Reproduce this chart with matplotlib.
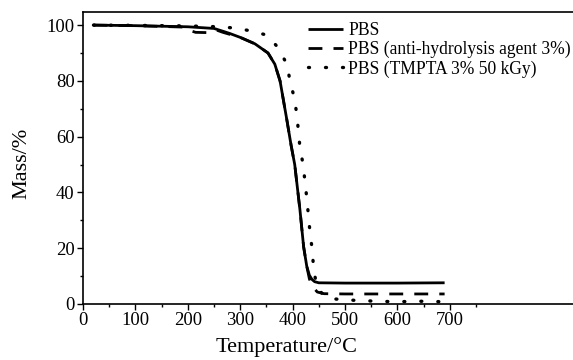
import matplotlib
matplotlib.use("Agg")
import matplotlib.pyplot as plt
from matplotlib.ticker import MultipleLocator, FixedLocator

# Temperature (°C) and mass (%)
t_pbs = [20, 100, 200, 250, 267, 280, 300, 328, 353, 366, 376, 389, 397, 404, 414, 421, 427, 432, 437, 442, 450, 500, 600, 690]
m_pbs = [100, 99.8, 99.4, 98.8, 97.8, 97, 95.6, 93.3, 90, 86, 80, 66, 57, 50, 33.7, 20.5, 13.5, 10.3, 8.8, 8.0, 7.6, 7.5, 7.5, 7.6]

t_anti = [20, 100, 190, 205, 215, 240, 255, 267, 300, 328, 353, 366, 376, 389, 397, 404, 414, 421, 427, 432, 437, 447, 460, 500, 600, 690]
m_anti = [100, 99.8, 99.3, 98, 97.4, 97.3, 98.2, 97.4, 95.6, 93.3, 90, 86, 80, 66, 57, 50, 33.7, 20.5, 13.5, 9.0, 6.5, 4.3, 3.7, 3.6, 3.6, 3.6]

t_tmpta = [20, 100, 200, 260, 286, 319, 351, 372, 389, 395, 403, 408, 414, 420, 427, 433, 437, 440, 446, 462, 480, 520, 560, 600, 640, 690]
m_tmpta = [100, 99.9, 99.7, 99.4, 99, 98, 96.4, 92, 86, 80, 74, 68, 56, 50, 38, 26, 20, 13, 6, 2.5, 1.8, 1.3, 1.0, 0.8, 1.0, 0.8]

labels = ["PBS", "PBS (anti-hydrolysis agent 3%)", "PBS (TMPTA 3% 50 kGy)"]
x_ticks = [0, 100, 200, 300, 400, 500, 600, 700]
y_ticks = [0, 20, 40, 60, 80, 100]

plt.rcParams['font.family'] = ['Liberation Serif', 'DejaVu Serif']

fig = plt.figure(figsize=(5.73, 3.6), dpi=100)
ax = fig.add_axes([83/573, 1-304/360, 1-83/573 + 0.02, (304-12)/360])

ax.plot(t_pbs, m_pbs, color='black', lw=2.0, solid_capstyle='butt', label=labels[0])
ax.plot(t_anti, m_anti, color='black', lw=2.0, linestyle=(0, (5, 4)), label=labels[1])
ax.plot(t_tmpta, m_tmpta, color='black', lw=2.4, linestyle=(0, (0.3, 4.8)),
        dash_capstyle='round', label=labels[2])

ax.set_xlim(0, 935 * (1 + 0.02 / (1 - 83/573)))
ax.set_ylim(0, 104.7)

ax.xaxis.set_major_locator(FixedLocator(x_ticks))
ax.xaxis.set_minor_locator(FixedLocator([50, 150, 250, 350, 450, 550, 650, 750]))
ax.yaxis.set_major_locator(FixedLocator(y_ticks))
ax.yaxis.set_minor_locator(MultipleLocator(10))
ax.tick_params(which='major', direction='out', length=4, width=1.0, labelsize=13.4, pad=2)
ax.tick_params(which='minor', direction='out', length=2.5, width=1.0)

ax.spines['right'].set_visible(False)
for s in ['left', 'bottom', 'top']:
    ax.spines[s].set_linewidth(1.2)

ax.set_ylabel("Mass/%", fontsize=16)
ax.set_xlabel("Temperature/°C", fontsize=16)
ax.yaxis.set_label_coords(-0.102, 0.48)
ax.xaxis.set_label_coords(0.405, -0.115)

leg = ax.legend(loc='upper left', bbox_to_anchor=(0.43, 1.0), frameon=False,
                fontsize=12.65, handlelength=2.0, handletextpad=0.28,
                labelspacing=0.12, borderaxespad=0.15)

fig.savefig("out.png", dpi=100)
